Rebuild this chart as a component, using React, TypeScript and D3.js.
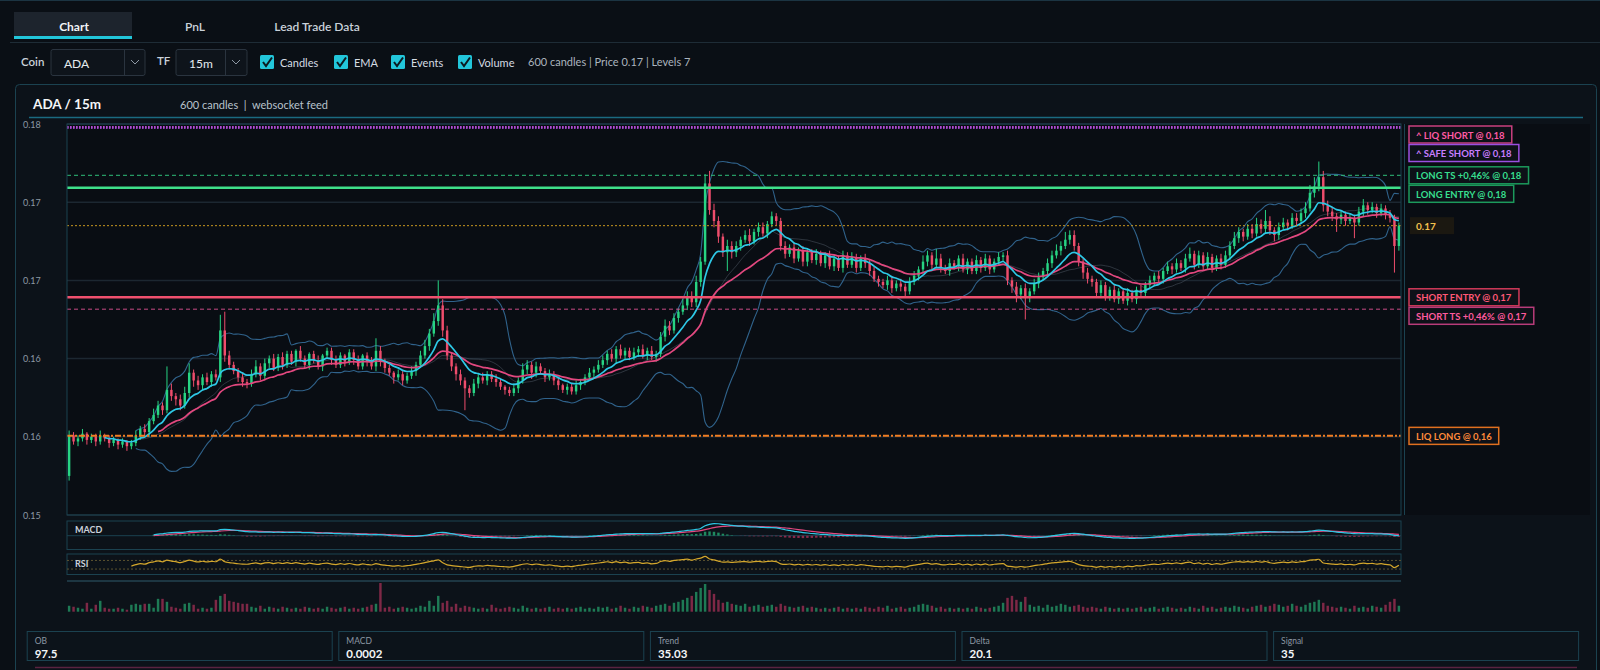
import * as d3 from 'd3'

const firstOpen = 1575
const closes = [
  1601, 1597, 1599, 1602, 1598, 1600, 1597, 1601, 1599, 1596,
  1598, 1595, 1597, 1594, 1596, 1601, 1605, 1603, 1610, 1614,
  1620, 1617, 1630, 1626, 1624, 1620, 1628, 1641, 1636, 1633,
  1638, 1635, 1640, 1638, 1668, 1652, 1646, 1642, 1638, 1635,
  1634, 1640, 1645, 1639, 1647, 1650, 1644, 1651, 1646, 1653,
  1648, 1655, 1650, 1646, 1653, 1649, 1645, 1652, 1655, 1649,
  1646, 1652, 1648, 1654, 1649, 1645, 1652, 1648, 1645, 1655,
  1648, 1644, 1641, 1638, 1640, 1636, 1639, 1642, 1646, 1652,
  1658, 1666, 1674, 1684, 1668, 1652, 1645, 1640, 1636, 1631,
  1628, 1634, 1638, 1636, 1640, 1637, 1635, 1632, 1630, 1628,
  1631, 1636, 1643, 1646, 1641, 1645, 1642, 1638, 1640, 1636,
  1633, 1630, 1632, 1629, 1633, 1635, 1638, 1641, 1643, 1646,
  1649, 1653, 1650, 1656, 1652, 1655, 1651, 1654, 1656, 1652,
  1655, 1651, 1653, 1664, 1671, 1668, 1676, 1680, 1684, 1690,
  1686, 1699, 1712, 1762, 1745, 1738, 1728, 1718, 1722, 1718,
  1722, 1726, 1729, 1725, 1731, 1734, 1730, 1736, 1741, 1738,
  1722, 1717, 1721, 1714, 1719, 1712, 1718, 1713, 1717, 1711,
  1716, 1709, 1714, 1708, 1716, 1710, 1715, 1708, 1714, 1711,
  1706, 1701, 1699, 1697, 1700, 1695, 1698, 1696, 1693, 1699,
  1703, 1707, 1712, 1716, 1710, 1714, 1708, 1706, 1711, 1709,
  1714, 1707, 1712, 1706, 1713, 1708, 1714, 1707, 1712, 1715,
  1716, 1700, 1696, 1691, 1695, 1689, 1693, 1698, 1702, 1706,
  1711, 1716, 1719, 1722, 1726, 1729, 1722, 1712, 1705, 1701,
  1699, 1692, 1697, 1690, 1694, 1688, 1693, 1687, 1692, 1688,
  1694, 1692, 1697, 1700, 1703, 1701, 1706, 1709, 1707, 1711,
  1708, 1714, 1717, 1710, 1716, 1709, 1715, 1708, 1714, 1710,
  1716, 1722, 1727, 1731, 1728, 1733, 1730, 1736, 1733, 1738,
  1732, 1729, 1734, 1737, 1735, 1740, 1738, 1743, 1746, 1756,
  1760, 1766, 1748, 1744, 1741, 1739, 1742, 1738, 1740, 1737,
  1744, 1748, 1745, 1747, 1743, 1746, 1742, 1740, 1722, 1735,
]
const wickUp = [
  3, 2, 2, 3, 1, 2, 2, 3, 1, 2, 2, 1, 2, 1, 2, 3, 2, 3, 2, 4,
  3, 2, 15, 4, 2, 3, 4, 6, 2, 3, 2, 3, 2, 3, 10, 12, 3, 2, 2, 3,
  2, 3, 4, 2, 3, 2, 3, 2, 3, 2, 2, 1, 3, 2, 1, 2, 3, 1, 2, 2,
  3, 2, 1, 2, 2, 3, 1, 2, 3, 8, 3, 2, 2, 1, 3, 2, 2, 3, 2, 3,
  4, 3, 5, 16, 4, 3, 2, 2, 3, 2, 2, 3, 2, 3, 2, 2, 3, 2, 1, 2,
  3, 2, 4, 3, 2, 3, 2, 2, 3, 2, 2, 1, 2, 2, 3, 2, 2, 3, 2, 3,
  3, 2, 3, 2, 3, 2, 2, 3, 2, 3, 2, 3, 2, 3, 4, 3, 3, 2, 4, 3,
  3, 4, 3, 6, 8, 4, 3, 2, 4, 3, 3, 2, 3, 4, 2, 3, 3, 2, 3, 2,
  2, 3, 2, 3, 2, 3, 2, 2, 3, 2, 2, 3, 2, 2, 3, 2, 3, 2, 2, 3,
  2, 3, 2, 2, 3, 2, 2, 3, 2, 3, 3, 2, 4, 3, 2, 6, 3, 2, 3, 2,
  2, 3, 2, 2, 3, 2, 3, 2, 2, 3, 2, 3, 2, 3, 2, 3, 2, 3, 3, 2,
  3, 3, 4, 3, 5, 3, 3, 2, 2, 3, 2, 2, 3, 2, 2, 3, 2, 2, 3, 2,
  2, 3, 2, 3, 2, 3, 2, 3, 2, 3, 2, 3, 4, 2, 3, 2, 3, 2, 2, 3,
  3, 3, 4, 3, 2, 3, 3, 4, 3, 7, 3, 2, 3, 3, 2, 3, 3, 3, 4, 5,
  6, 10, 4, 3, 3, 2, 3, 2, 3, 2, 3, 4, 2, 3, 2, 3, 2, 3, 2, 2,
]
const wickDn = [
  3, 2, 3, 2, 3, 2, 3, 2, 2, 3, 2, 3, 2, 3, 2, 2, 3, 2, 3, 2,
  2, 3, 2, 3, 4, 3, 2, 3, 4, 3, 3, 2, 3, 2, 3, 4, 3, 2, 3, 3,
  3, 2, 2, 3, 2, 3, 2, 2, 3, 2, 2, 3, 2, 2, 3, 2, 2, 3, 2, 3,
  2, 2, 3, 2, 3, 2, 2, 3, 2, 3, 3, 3, 2, 4, 2, 3, 2, 2, 3, 2,
  2, 3, 2, 3, 4, 3, 3, 4, 3, 14, 3, 2, 3, 2, 3, 2, 3, 2, 3, 2,
  2, 3, 2, 3, 4, 3, 2, 3, 2, 3, 3, 2, 3, 2, 2, 3, 2, 2, 3, 2,
  2, 3, 2, 3, 2, 3, 2, 2, 3, 2, 3, 2, 3, 2, 3, 3, 2, 3, 2, 3,
  3, 3, 3, 2, 3, 4, 4, 3, 12, 4, 3, 3, 2, 3, 2, 3, 2, 3, 2, 3,
  3, 3, 2, 3, 2, 3, 3, 2, 3, 2, 3, 2, 3, 2, 3, 2, 2, 3, 2, 3,
  3, 2, 3, 2, 3, 3, 2, 3, 4, 2, 2, 3, 2, 3, 3, 2, 3, 2, 3, 2,
  3, 2, 3, 2, 2, 3, 2, 3, 2, 2, 3, 3, 4, 5, 3, 14, 3, 2, 3, 2,
  2, 3, 2, 3, 2, 3, 3, 3, 4, 3, 3, 3, 2, 3, 3, 2, 3, 2, 3, 2,
  3, 2, 3, 2, 3, 2, 3, 2, 3, 2, 2, 3, 2, 3, 2, 3, 2, 3, 2, 3,
  2, 3, 2, 3, 3, 2, 3, 2, 3, 3, 3, 4, 3, 2, 3, 2, 3, 2, 3, 2,
  3, 3, 4, 3, 3, 8, 3, 3, 2, 10, 2, 3, 3, 2, 3, 2, 3, 3, 17, 3,
]
const volumes = [
  6, 5, 4, 3, 9, 3, 7, 11, 4, 3, 3, 4, 3, 2, 7, 8, 7, 8, 8, 4,
  13, 13, 10, 5, 4, 3, 8, 9, 7, 3, 4, 3, 4, 12, 16, 18, 11, 10, 9, 8,
  8, 5, 4, 6, 3, 5, 4, 3, 5, 4, 3, 4, 3, 5, 4, 3, 4, 3, 5, 4,
  3, 4, 5, 3, 4, 3, 4, 5, 7, 8, 29, 4, 5, 3, 4, 5, 4, 3, 4, 6,
  5, 11, 6, 16, 9, 11, 5, 8, 4, 6, 5, 4, 3, 4, 3, 7, 4, 3, 4, 5,
  4, 3, 6, 4, 3, 4, 3, 4, 5, 3, 4, 3, 4, 3, 4, 5, 3, 4, 3, 5,
  4, 5, 3, 4, 6, 4, 3, 5, 4, 6, 5, 4, 6, 7, 8, 6, 9, 10, 12, 14,
  16, 20, 24, 28, 22, 18, 12, 9, 10, 8, 7, 6, 8, 5, 6, 7, 5, 6, 7, 5,
  8, 6, 5, 4, 5, 6, 4, 5, 4, 3, 4, 3, 4, 5, 3, 4, 3, 4, 3, 5,
  4, 3, 5, 4, 6, 3, 4, 5, 3, 4, 5, 7, 8, 7, 6, 4, 5, 3, 4, 3,
  4, 3, 4, 3, 5, 4, 3, 4, 5, 6, 9, 14, 16, 12, 10, 15, 7, 5, 6, 4,
  7, 5, 6, 8, 7, 5, 6, 7, 5, 4, 5, 4, 3, 5, 4, 3, 4, 3, 4, 3,
  4, 5, 3, 4, 5, 3, 4, 5, 4, 3, 4, 3, 5, 4, 3, 6, 4, 5, 3, 4,
  5, 4, 6, 5, 4, 3, 5, 6, 7, 5, 6, 8, 7, 5, 6, 8, 6, 5, 7, 9,
  10, 12, 9, 6, 5, 4, 5, 4, 3, 6, 4, 5, 4, 6, 5, 4, 7, 10, 13, 6,
]

const yTickValues = [0.18, 0.175, 0.17, 0.165, 0.16, 0.155]
const yTickLabels = ['0.18', '0.17', '0.17', '0.16', '0.16', '0.15']

const levelKinds = ['safeShort', 'liqShort', 'longTs', 'longEntry', 'shortEntry', 'shortTs', 'liqLong']
const levelNames = ['^ SAFE SHORT', '^ LIQ SHORT', 'LONG TS +0,46%', 'LONG ENTRY', 'SHORT ENTRY', 'SHORT TS +0,46%', 'LIQ LONG']
const levelValues = [0.17977, 0.17979, 0.17672, 0.17593, 0.16892, 0.16816, 0.16006]

const tabs = ['Chart', 'PnL', 'Lead Trade Data']
const toggles = ['Candles', 'EMA', 'Events', 'Volume']
const statLabels = ['OB', 'MACD', 'Trend', 'Delta', 'Signal']
const statValues = ['97.5', '0.0002', '35.03', '20.1', '35']
const coin = 'ADA'
const timeframe = '15m'
const candleCount = 600

const FONT = 'Lato, "Open Sans", sans-serif'
const C = {
  bg: '#0a0f15',
  panel: '#0c1219',
  plot: '#090d13',
  border: '#1b4250',
  grid: '#1c2731',
  up: '#27d483',
  down: '#ee4d6c',
  emaFast: '#2ec8e6',
  emaSlow: '#e2487f',
  band: '#30638c',
  mid: '#56616d',
  text: '#d5dce3',
  muted: '#8d98a4',
  cyan: '#22c6da',
}
const LEVEL_STYLE: Record<string, { stroke: string; width: number; dash?: string; box: string; text: string }> = {
  safeShort: { stroke: '#9a55e8', width: 2.5, dash: '1.5,1.5', box: '#9b4fe0', text: '#c77dff' },
  liqShort: { stroke: '#b64bd0', width: 2.5, dash: '1.5,1.5', box: '#c9407f', text: '#ff5aa5' },
  longTs: { stroke: '#2fbf7a', width: 1, dash: '4,3', box: '#1c9a5c', text: '#37de8e' },
  longEntry: { stroke: '#3ee08a', width: 2.5, box: '#1c9a5c', text: '#37de8e' },
  shortEntry: { stroke: '#f0506e', width: 2.5, box: '#d13a5a', text: '#ff5876' },
  shortTs: { stroke: '#c94a86', width: 1, dash: '4,3', box: '#b83c7a', text: '#ff5a9e' },
  liqLong: { stroke: '#f07d22', width: 2, dash: '6,2,2,2', box: '#e0701f', text: '#ff8a3a' },
}

const ctx = typeof document !== 'undefined' ? document.createElement('canvas').getContext('2d') : null
function textWidth(s: string, font: string) {
  if (!ctx) return s.length * 5.6
  ctx.font = font
  return ctx.measureText(s).width
}

function ema(arr: number[], p: number) {
  const k = 2 / (p + 1)
  const out: number[] = []
  arr.forEach((v, i) => out.push(i === 0 ? v : v * k + out[i - 1] * (1 - k)))
  return out
}

function bands(arr: number[], p: number, mult: number) {
  return arr.map((_, i) => {
    if (i < p - 1) return { mid: NaN, up: NaN, lo: NaN }
    const win = arr.slice(i - p + 1, i + 1)
    const m = d3.mean(win) as number
    const sd = Math.sqrt(d3.mean(win, (v) => (v - m) * (v - m)) as number)
    return { mid: m, up: m + mult * sd, lo: m - mult * sd }
  })
}

function rsi(arr: number[], p: number) {
  const out = arr.map(() => NaN)
  let g = 0
  let l = 0
  for (let i = 1; i <= p; i++) {
    const d = arr[i] - arr[i - 1]
    g += Math.max(d, 0)
    l += Math.max(-d, 0)
  }
  g /= p
  l /= p
  out[p] = l === 0 ? 100 : 100 - 100 / (1 + g / l)
  for (let i = p + 1; i < arr.length; i++) {
    const d = arr[i] - arr[i - 1]
    g = (g * (p - 1) + Math.max(d, 0)) / p
    l = (l * (p - 1) + Math.max(-d, 0)) / p
    out[i] = l === 0 ? 100 : 100 - 100 / (1 + g / l)
  }
  return out
}

export default function App() {
  const W = 1600
  const H = 670
  const plot = { left: 67, right: 1401, top: 124, bottom: 515 }
  const n = closes.length

  const x = d3.scaleBand<number>().domain(d3.range(n)).range([plot.left, plot.right]).paddingInner(0.45).paddingOuter(0.2)
  const bw = x.bandwidth()
  const cx = (i: number) => (x(i) as number) + bw / 2
  const y = d3.scaleLinear().domain([0.155, 0.18]).range([plot.bottom, plot.top])

  const candles = closes.map((c, i) => {
    const o = i === 0 ? firstOpen : closes[i - 1]
    return {
      i,
      o: o / 1e4,
      c: c / 1e4,
      h: (Math.max(o, c) + wickUp[i]) / 1e4,
      l: (Math.min(o, c) - wickDn[i]) / 1e4,
      v: volumes[i],
    }
  })
  const px = closes.map((c) => c / 1e4)
  const emaFast = ema(px, 9)
  const emaSlow = ema(px, 21)
  const bb = bands(px, 16, 2.5)
  const ema12 = ema(px, 12)
  const ema26 = ema(px, 26)
  const macd = px.map((_, i) => ema12[i] - ema26[i])
  const signal = ema(macd, 9)
  const rsiVals = rsi(px, 14)

  const seriesPath = (vals: number[], from: number, sy: (v: number) => number) =>
    d3
      .line<number>()
      .defined((v, i) => i >= from && !isNaN(v))
      .x((_, i) => cx(i))
      .y((v) => sy(v))
      .curve(d3.curveMonotoneX)(vals) || ''

  // MACD panel
  const macdZero = 535.7
  const macdFrom = 19
  const macdMax = d3.max(macd.slice(macdFrom).concat(signal.slice(macdFrom)), (v) => Math.abs(v)) || 1
  const my = d3.scaleLinear().domain([-macdMax, macdMax]).range([macdZero + 12, macdZero - 12])

  // RSI panel
  const ry = d3.scaleLinear().domain([0, 100]).range([575.5, 554])

  // Volume
  const vy = d3.scaleLinear().domain([0, d3.max(volumes) || 1]).range([611.7, 583])

  // Level labels with simple collision handling
  const labelFont = `700 9.5px ${FONT}`
  const labels = levelKinds
    .map((k, idx) => ({
      kind: k,
      value: levelValues[idx],
      text: `${levelNames[idx]} @ ${levelValues[idx].toFixed(2).replace('.', ',')}`,
      y: y(levelValues[idx]),
      cy: 0,
    }))
    .sort((a, b) => a.y - b.y || (a.kind === 'liqShort' ? -1 : 1))
  let prev = -Infinity
  labels.forEach((it) => {
    it.cy = Math.max(it.y, plot.top + 10.5, prev + 18.5)
    prev = it.cy
  })
  const lastPrice = px[n - 1]

  const toggleX = [260, 334, 391, 458]
  const tabX = [74, 195, 317]
  const statStep = 311.6

  return (
    <div style={{ position: 'fixed', left: 0, top: 0, width: W, height: H, background: C.bg }}>
      <svg width={W} height={H} style={{ display: 'block', fontFamily: FONT }}>
        <rect x={0} y={0} width={W} height={H} fill={C.bg} />
        <line x1={0} x2={W} y1={0.5} y2={0.5} stroke="#1b3442" />

        {/* tabs */}
        <rect x={14} y={12} width={118} height={26} fill="#1d242d" />
        <rect x={14} y={36} width={118} height={3} fill={C.cyan} />
        {tabs.map((t, i) => (
          <text key={t} x={tabX[i]} y={26} textAnchor="middle" dominantBaseline="central" fontSize={12} fontWeight={i === 0 ? 700 : 600} fill={i === 0 ? '#f1f4f7' : '#c9d1d9'}>
            {t}
          </text>
        ))}
        <line x1={10} x2={W} y1={42.5} y2={42.5} stroke="#1e2c36" />

        {/* controls */}
        <text x={21} y={61} dominantBaseline="central" fontSize={11.5} fontWeight={600} fill="#c9d1d9">Coin</text>
        <rect x={51} y={49.5} width={94} height={26} rx={2} fill="#0e141b" stroke="#2a343f" />
        <line x1={124.5} x2={124.5} y1={50} y2={75} stroke="#2a343f" />
        <path d="M131,60 L135,64 L139,60" fill="none" stroke="#8d98a4" strokeWidth={1} />
        <text x={64} y={63} dominantBaseline="central" fontSize={12} fill="#e6ebef">{coin}</text>

        <text x={157} y={60} dominantBaseline="central" fontSize={11.5} fontWeight={600} fill="#c9d1d9">TF</text>
        <rect x={176} y={49.5} width={71} height={26} rx={2} fill="#0e141b" stroke="#2a343f" />
        <line x1={225.5} x2={225.5} y1={50} y2={75} stroke="#2a343f" />
        <path d="M232,60 L236,64 L240,60" fill="none" stroke="#8d98a4" strokeWidth={1} />
        <text x={189} y={63} dominantBaseline="central" fontSize={12} fill="#e6ebef">{timeframe}</text>

        {toggles.map((t, i) => (
          <g key={t} transform={`translate(${toggleX[i]},55)`}>
            <rect width={14} height={14} rx={1.5} fill={C.cyan} />
            <path d="M3,7 L6,11 L12,2.5" fill="none" stroke="#0b1a20" strokeWidth={2} />
            <text x={20} y={7} dominantBaseline="central" fontSize={11} fill="#d5dce3">{t}</text>
          </g>
        ))}
        <text x={528} y={61} dominantBaseline="central" fontSize={11} fill="#aab4be">
          {`${candleCount} candles | Price ${lastPrice.toFixed(2)} | Levels ${levelKinds.length}`}
        </text>

        {/* chart panel */}
        <rect x={15.5} y={84.5} width={1581} height={620} rx={4} fill={C.panel} stroke={C.border} />
        <text x={33} y={104} dominantBaseline="central" fontSize={13.5} fontWeight={700} fill="#f4f6f8">{`${coin} / ${timeframe}`}</text>
        <text x={180} y={104} dominantBaseline="central" fontSize={11} fill="#b8c2cc" style={{ whiteSpace: 'pre' }}>{`${candleCount} candles  |  websocket feed`}</text>
        <line x1={29} x2={1583} y1={117.5} y2={117.5} stroke="#1a6a80" strokeWidth={1.5} />
        <rect x={plot.left} y={plot.top} width={1590 - plot.left} height={plot.bottom - plot.top} fill={C.plot} />

        {/* y axis */}
        {yTickValues.map((v, i) => (
          <g key={i}>
            <line x1={plot.left} x2={plot.right} y1={y(v)} y2={y(v)} stroke={C.grid} strokeWidth={1.5} />
            <text x={23} y={y(v)} dominantBaseline="central" fontSize={9} fill={C.muted}>{yTickLabels[i]}</text>
          </g>
        ))}

        {/* bollinger */}
        <path d={seriesPath(bb.map((b) => b.up), 15, y)} fill="none" stroke={C.band} strokeWidth={1.1} />
        <path d={seriesPath(bb.map((b) => b.lo), 15, y)} fill="none" stroke={C.band} strokeWidth={1.1} />
        <path d={seriesPath(bb.map((b) => b.mid), 15, y)} fill="none" stroke={C.mid} strokeWidth={0.8} opacity={0.6} />

        {/* candles */}
        {candles.map((d) => {
          const col = d.c >= d.o ? C.up : C.down
          const top = y(Math.max(d.o, d.c))
          const h = Math.max(1, Math.abs(y(d.o) - y(d.c)))
          return (
            <g key={d.i}>
              <line x1={cx(d.i)} x2={cx(d.i)} y1={y(d.h)} y2={y(d.l)} stroke={col} strokeWidth={1} />
              <rect x={x(d.i)} y={top} width={bw} height={h} fill={col} />
            </g>
          )
        })}

        {/* EMAs */}
        <path d={seriesPath(emaSlow, 20, y)} fill="none" stroke={C.emaSlow} strokeWidth={1.7} />
        <path d={seriesPath(emaFast, 8, y)} fill="none" stroke={C.emaFast} strokeWidth={1.7} />

        {/* levels */}
        {levelKinds.map((k, idx) => {
          const s = LEVEL_STYLE[k]
          const ly = y(levelValues[idx])
          return (
            <line key={k} x1={plot.left} x2={plot.right} y1={ly} y2={ly} stroke={s.stroke} strokeWidth={s.width} strokeDasharray={s.dash} />
          )
        })}
        <line x1={plot.left} x2={plot.right} y1={y(lastPrice)} y2={y(lastPrice)} stroke="#c8961e" strokeWidth={1} strokeDasharray="2,2" />

        <rect x={plot.left} y={plot.top} width={plot.right - plot.left} height={plot.bottom - plot.top} fill="none" stroke={C.border} />
        <line x1={1404.5} x2={1404.5} y1={plot.top} y2={plot.bottom} stroke={C.border} />

        {/* level labels */}
        {labels.map((it) => {
          const s = LEVEL_STYLE[it.kind]
          const w = textWidth(it.text, labelFont) + 14
          return (
            <g key={it.kind}>
              <rect x={1409} y={it.cy - 8.5} width={w} height={17} fill="#0d1118" stroke={s.box} strokeWidth={1.5} />
              <text x={1416} y={it.cy + 0.5} dominantBaseline="central" fontSize={9.5} fontWeight={700} fill={s.text}>{it.text}</text>
            </g>
          )
        })}
        <rect x={1410} y={y(lastPrice) - 8.5} width={44} height={17} fill="#1b1811" />
        <text x={1416} y={y(lastPrice) + 0.5} dominantBaseline="central" fontSize={10} fontWeight={700} fill="#f2c14e">{lastPrice.toFixed(2)}</text>

        {/* MACD */}
        <rect x={plot.left} y={521} width={plot.right - plot.left} height={28.5} fill="none" stroke={C.border} />
        <line x1={plot.left} x2={plot.right} y1={macdZero} y2={macdZero} stroke={C.border} />
        {macd.map((m, i) =>
          i < macdFrom ? null : (
            <rect
              key={i}
              x={x(i)}
              width={bw}
              y={Math.min(my(m - signal[i]), my(0))}
              height={Math.abs(my(m - signal[i]) - my(0))}
              fill={m - signal[i] >= 0 ? '#1f8a5f' : '#8a2a4a'}
            />
          )
        )}
        <path d={seriesPath(signal, macdFrom, my)} fill="none" stroke={C.emaSlow} strokeWidth={1.2} />
        <path d={seriesPath(macd, macdFrom, my)} fill="none" stroke={C.emaFast} strokeWidth={1.2} />
        <text x={75} y={529} dominantBaseline="central" fontSize={9} fontWeight={700} fill="#c9d1d9">MACD</text>

        {/* RSI */}
        <rect x={plot.left} y={554} width={plot.right - plot.left} height={20.5} fill="none" stroke={C.border} />
        {[70, 30].map((v) => (
          <line key={v} x1={plot.left} x2={plot.right} y1={ry(v)} y2={ry(v)} stroke="#5c5230" strokeDasharray="2,2" />
        ))}
        <path d={seriesPath(rsiVals, 14, ry)} fill="none" stroke="#d4a72c" strokeWidth={1.2} />
        <text x={75} y={563} dominantBaseline="central" fontSize={9} fontWeight={700} fill="#c9d1d9">RSI</text>

        {/* volume */}
        <line x1={plot.left} x2={plot.right} y1={581} y2={581} stroke="#1d3642" strokeWidth={2} />
        {candles.map((d) => (
          <rect key={d.i} x={x(d.i)} width={bw} y={vy(d.v)} height={vy(0) - vy(d.v)} fill={d.c >= d.o ? '#1e7a55' : '#7e2846'} />
        ))}

        {/* stat cards */}
        {statLabels.map((s, i) => (
          <g key={s} transform={`translate(${26.7 + i * statStep},631)`}>
            <rect x={0.5} y={0.5} width={305} height={29} fill="#0c131a" stroke={C.border} />
            <text x={8} y={9.5} dominantBaseline="central" fontSize={8.5} fill={C.muted}>{s}</text>
            <text x={8} y={22} dominantBaseline="central" fontSize={11.5} fontWeight={700} fill="#f4f6f8">{statValues[i]}</text>
          </g>
        ))}
        <line x1={35} x2={1577} y1={667.5} y2={667.5} stroke="#5a2340" strokeWidth={1.5} />
      </svg>
    </div>
  )
}
